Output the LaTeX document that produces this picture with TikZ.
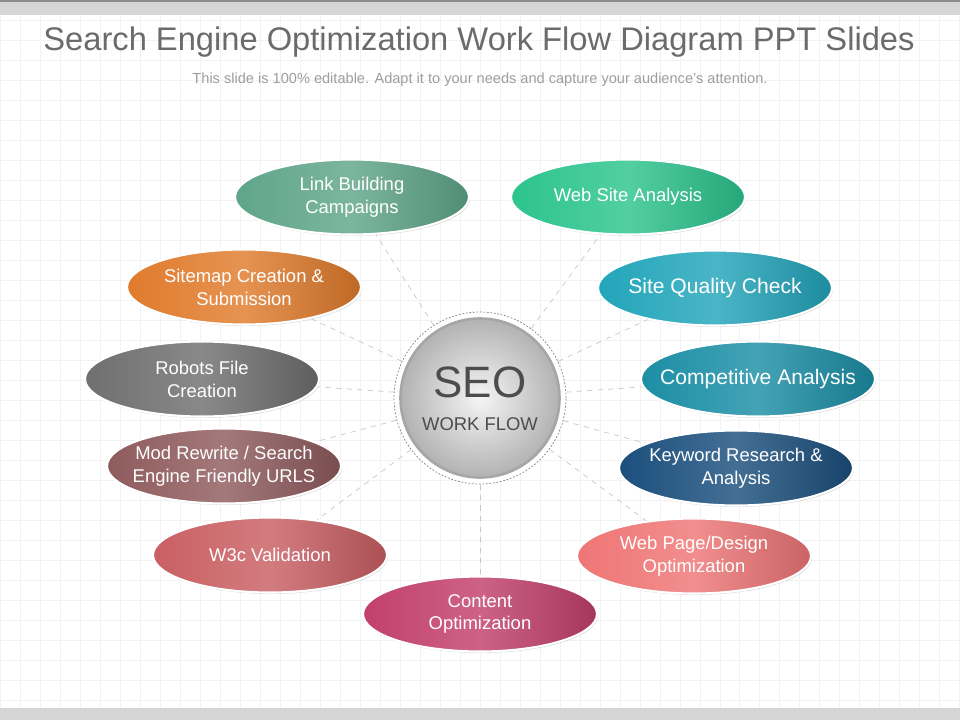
\documentclass[tikz,border=0pt]{standalone}
\usepackage{fontspec}
\setmainfont{Liberation Sans}
\usetikzlibrary{shapes.geometric,shadows}

\definecolor{lbcol}{HTML}{5FA58A}
\definecolor{wscol}{HTML}{2CC48E}
\definecolor{smcol}{HTML}{E07B2C}
\definecolor{sqcol}{HTML}{22A5BA}
\definecolor{rfcol}{HTML}{6F6F6F}
\definecolor{cacol}{HTML}{1B8EA5}
\definecolor{mrcol}{HTML}{8F5B5D}
\definecolor{krcol}{HTML}{1B4F7D}
\definecolor{w3col}{HTML}{C95F63}
\definecolor{wpcol}{HTML}{EF7575}
\definecolor{cocol}{HTML}{C2406B}

\begin{document}
\begin{tikzpicture}[x=0.02cm, y=-0.02cm,
    bubble/.style={ellipse, minimum width=4.68cm, minimum height=1.5cm,
      inner xsep=-18pt, inner ysep=0pt,
      draw=white, line width=1.2pt, align=center, text=white,
      font=\fontsize{10.5}{13}\selectfont,
      left color=#1, right color=#1!85!black, middle color=#1!82!white,
      drop shadow={opacity=0.3, shadow xshift=0.6pt, shadow yshift=-0.8pt}},
    spoke/.style={draw=black!22, dashed, thin}]

  % page
  \useasboundingbox (0,0) rectangle (960,720);
  \fill[white] (0,0) rectangle (960,720);
  \draw[black!5, step=0.4cm] (0,15) grid (960,708);
  \fill[black!16] (0,0) rectangle (960,15);
  \fill[black!45] (0,0) rectangle (960,2);
  \fill[black!16] (0,708) rectangle (960,720);

  \node[text=black!58, font=\fontsize{18.6}{21}\selectfont] (title) at (479,42)
    {Search Engine Optimization Work Flow Diagram PPT Slides};
  \node[text=black!38, font=\fontsize{8.3}{10}\selectfont] (sub) at (480,80)
    {This slide is 100\% editable. Adapt it to your needs and capture your audience's attention.};

  % hub
  \node[circle, draw=black!50, dash pattern=on 1pt off 1pt, fill=white,
    minimum size=3.44cm, inner sep=0pt] (seo) at (480,398) {};
  \node[circle, inner color=black!4, outer color=black!30, draw=black!35,
    line width=1.5pt, minimum size=3.18cm] (core) at (seo) {};
  \node[text=black!70, font=\fontsize{25}{25}\selectfont] (seotxt) at (480,382) {SEO};
  \node[text=black!70, font=\fontsize{10.5}{12}\selectfont] (wftxt) at (480,424) {WORK FLOW};

  % bubbles
  \node[bubble=lbcol] (lbc) at (352,197) {Link Building\\Campaigns};
  \node[bubble=wscol] (wsa) at (628,197) {Web Site Analysis};
  \node[bubble=smcol] (smc) at (244,287) {Sitemap Creation \&\\Submission};
  \node[bubble=sqcol, font=\fontsize{12}{14}\selectfont] (sqc) at (715,288) {Site Quality Check};
  \node[bubble=rfcol] (rfc) at (202,379) {Robots File\\Creation};
  \node[bubble=cacol, font=\fontsize{12}{14}\selectfont] (cpa) at (758,379) {Competitive Analysis};
  \node[bubble=mrcol] (mrw) at (224,466) {Mod Rewrite / Search\\Engine Friendly URLS};
  \node[bubble=krcol] (kwr) at (736,468) {Keyword Research \&\\Analysis};
  \node[bubble=w3col] (w3c) at (270,555) {W3c Validation};
  \node[bubble=wpcol] (wpd) at (694,556) {Web Page/Design\\Optimization};
  \node[bubble=cocol] (cto) at (480,614) {Content\\Optimization};

  \draw[spoke] (seo) -- (lbc);
  \draw[spoke] (seo) -- (wsa);
  \draw[spoke] (seo) -- (smc);
  \draw[spoke] (seo) -- (sqc);
  \draw[spoke] (seo) -- (rfc);
  \draw[spoke] (seo) -- (cpa);
  \draw[spoke] (seo) -- (mrw);
  \draw[spoke] (seo) -- (kwr);
  \draw[spoke] (seo) -- (w3c);
  \draw[spoke] (seo) -- (wpd);
  \draw[spoke] (seo) -- (cto);

\end{tikzpicture}
\end{document}
